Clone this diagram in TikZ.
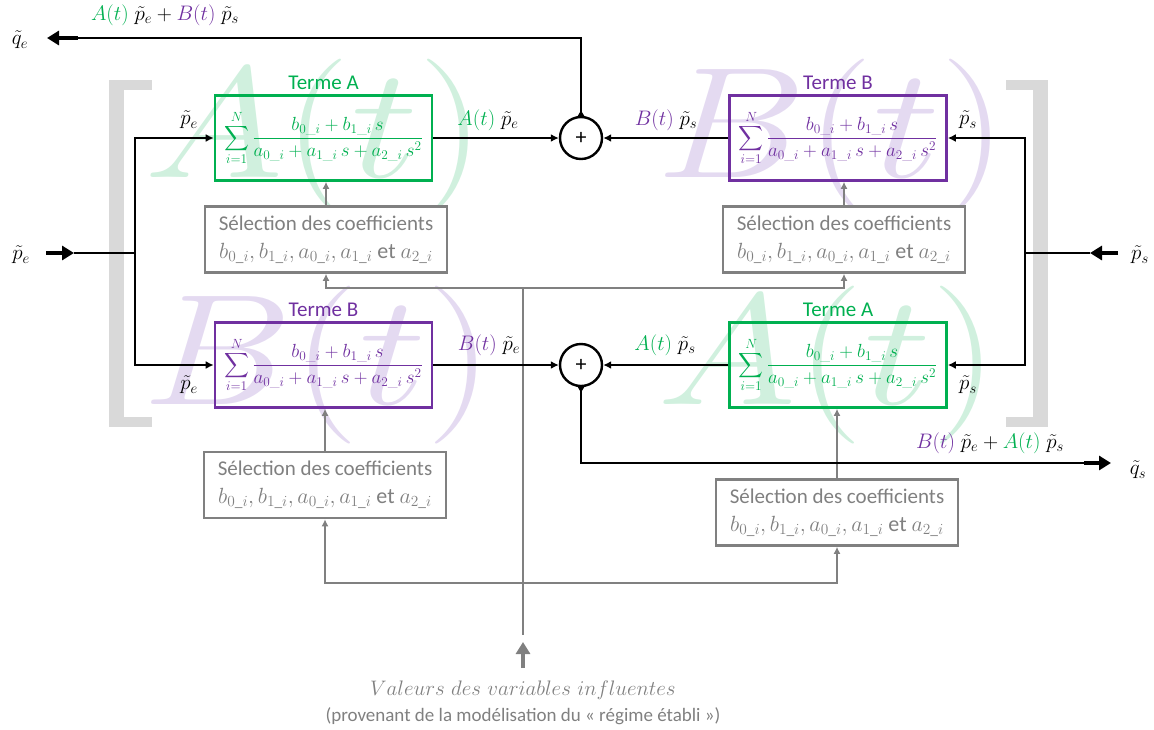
\RequirePackage{fix-cm}
\documentclass[tikz,border=0pt]{standalone}
\usepackage{amsmath}
\usepackage[no-math]{fontspec}
\newfontfamily\carl{Carlito}
\usetikzlibrary{arrows.meta}
\definecolor{grn}{HTML}{00B050}
\definecolor{prp}{HTML}{7030A0}
\definecolor{grnL}{HTML}{D0F0DE}
\definecolor{prpL}{HTML}{E4DAF1}
\definecolor{gry}{HTML}{808080}
\definecolor{brk}{HTML}{D9D9D9}
\newcommand{\AtT}{{\color{grn}A(t)}}
\newcommand{\BtT}{{\color{prp}B(t)}}
\newcommand{\frm}{\displaystyle\sum_{i=1}^{N}\frac{b_{0\_i}+b_{1\_i}\,s}{a_{0\_i}+a_{1\_i}\,s+a_{2\_i}\,s^{2}}}
\newcommand{\coefs}{{\fontsize{22}{28}\selectfont$b_{0\_i}, b_{1\_i}, a_{0\_i}, a_{1\_i}$ et $a_{2\_i}$}}
\newcommand{\wmk}[1]{\scalebox{1.2}[1]{$#1$}}
\begin{document}
\begin{tikzpicture}[x=1pt,y=-1pt,
  wm/.style={inner sep=0pt, font=\fontsize{158}{158}\selectfont},
  term/.style={draw, line width=2.6pt, minimum width=217pt, minimum height=85pt, inner sep=0pt, font=\fontsize{19}{22}\selectfont},
  termA/.style={term, draw=grn, text=grn},
  termB/.style={term, draw=prp, text=prp},
  ttl/.style={inner sep=0pt, font=\carl\fontsize{21}{24}\selectfont},
  sel/.style={draw=gry, fill=white, line width=2.6pt, minimum width=242pt, minimum height=66pt, inner sep=0pt, text=gry, align=center, font=\carl\fontsize{21}{28}\selectfont},
  plusc/.style={circle, draw, line width=2.4pt, minimum size=42pt, inner sep=0pt, font=\carl\fontsize{22}{22}\selectfont},
  lab/.style={inner sep=0pt, font=\fontsize{21}{24}\selectfont},
  wire/.style={line width=2.2pt},
  sig/.style={wire, -{Latex[length=8pt,width=8pt]}},
  circtail/.style={{Latex[reversed,length=6pt,width=7pt]}-},
  bigarrow/.style={line width=4.5pt, -{Triangle[length=12pt,width=14pt]}},
  gwire/.style={draw=gry, line width=2.2pt},
  garrow/.style={gwire, -{Latex[length=7pt,width=7pt]}},
  gbig/.style={draw=gry, line width=4.5pt, -{Triangle[length=12pt,width=14pt]}}
]
\useasboundingbox (0,0) rectangle (1154,729);
% watermarks
\node[wm,text=grnL] (wA1) at (315,138) {\wmk{A(t)}};
\node[wm,text=prpL] (wB1) at (832,138) {\wmk{B(t)}};
\node[wm,text=prpL] (wB2) at (318,365) {\wmk{B(t)}};
\node[wm,text=grnL] (wA2) at (828,365) {\wmk{A(t)}};
% brackets
\fill[brk] (109,80) rectangle (124,427);
\fill[brk] (109,80) rectangle (152,90);
\fill[brk] (109,417) rectangle (152,427);
\fill[brk] (1033,80) rectangle (1048,427);
\fill[brk] (1006,80) rectangle (1048,90);
\fill[brk] (1006,417) rectangle (1048,427);
% term boxes
\node[termA] (tA1) at (323.5,138) {$\frm$};
\node[termB] (tB1) at (838,138) {$\frm$};
\node[termB] (tB2) at (323.5,365) {$\frm$};
\node[termA] (tA2) at (838,365) {$\frm$};
\node[ttl,text=grn,above=4pt] (ttA1) at (tA1.north) {Terme A};
\node[ttl,text=prp,above=4pt] (ttB1) at (tB1.north) {Terme B};
\node[ttl,text=prp,above=4pt] (ttB2) at (tB2.north) {Terme B};
\node[ttl,text=grn,above=4pt] (ttA2) at (tA2.north) {Terme A};
% selection boxes
\node[sel] (s1b) at (326,239.5) {Sélection des coefficients\\\coefs};
\node[sel] (s2b) at (844,239.5) {Sélection des coefficients\\\coefs};
\node[sel] (s3b) at (325,485) {Sélection des coefficients\\\coefs};
\node[sel] (s4b) at (837,512.5) {Sélection des coefficients\\\coefs};
% summing junctions
\node[plusc] (S1) at (581,138) {+};
\node[plusc] (S2) at (581,365) {+};
% labels
\node[lab] (lqe) at (20,40) {$\tilde{q}_e$};
\node[lab] (ltop) at (165,15) {$\AtT\;\tilde{p}_e+\BtT\;\tilde{p}_s$};
\node[lab] (l1) at (488,120) {$\AtT\;\tilde{p}_e$};
\node[lab] (l2) at (666,120) {$\BtT\;\tilde{p}_s$};
\node[lab] (l3) at (489,345) {$\BtT\;\tilde{p}_e$};
\node[lab] (l4) at (665,345) {$\AtT\;\tilde{p}_s$};
\node[lab] (lbot) at (990,443) {$\BtT\;\tilde{p}_e+\AtT\;\tilde{p}_s$};
\node[lab] (lqs) at (1138,470) {$\tilde{q}_s$};
\node[lab] (lpe) at (21,255) {$\tilde{p}_e$};
\node[lab] (lps) at (1140,255) {$\tilde{p}_s$};
\node[lab] (lpe1) at (189,120) {$\tilde{p}_e$};
\node[lab] (lpe2) at (189,385) {$\tilde{p}_e$};
\node[lab] (lps1) at (968,120) {$\tilde{p}_s$};
\node[lab] (lps2) at (968,385) {$\tilde{p}_s$};
\node[lab,text=gry] (v1) at (523,690) {$Valeurs\ des\ variables\ influentes$};
\node[inner sep=0pt,text=gry,font=\carl\fontsize{19}{22}\selectfont] (v2) at (523,716) {(provenant de la modélisation du « régime établi »)};
% coordinates
\coordinate (jL) at (135,253);
\coordinate (jR) at (1025,253);
\coordinate (peS) at (46,253);
\coordinate (peT) at (74,253);
\coordinate (psS) at (1118,253);
\coordinate (psT) at (1090,253);
\coordinate (qeA) at (78,38);
\coordinate (qeT) at (47,38);
\coordinate (qsA) at (1084,463);
\coordinate (qsT) at (1111,463);
\coordinate (gT) at (523,288);
\coordinate (gH) at (523,583);
\coordinate (gB) at (523,635);
\coordinate (vS) at (523,668);
\coordinate (vT) at (523,642);
% gray network
\draw[gwire] (gT) -- (gB);
\draw[garrow] (gT) -| (s1b.south);
\draw[garrow] (gT) -| (s2b.south);
\draw[garrow] (gH) -| (s3b.south);
\draw[garrow] (gH) -| (s4b.south);
\draw[gbig] (vS) -- (vT);
\draw[garrow] (s1b.north) -- (s1b.north |- tA1.south);
\draw[garrow] (s2b.north) -- (s2b.north |- tB1.south);
\draw[garrow] (s3b.north) -- (s3b.north |- tB2.south);
\draw[garrow] (s4b.north) -- (s4b.north |- tA2.south);
% black signals
\draw[bigarrow] (peS) -- (peT);
\draw[wire] (peT) -- (jL);
\draw[sig] (jL) |- (tA1.west);
\draw[sig] (jL) |- (tB2.west);
\draw[bigarrow] (psS) -- (psT);
\draw[wire] (psT) -- (jR);
\draw[sig] (jR) |- (tB1.east);
\draw[sig] (jR) |- (tA2.east);
\draw[sig] (tA1.east) -- (S1.west);
\draw[sig] (tB1.west) -- (S1.east);
\draw[sig] (tB2.east) -- (S2.west);
\draw[sig] (tA2.west) -- (S2.east);
\draw[wire,circtail] (S1.north) |- (qeA);
\draw[bigarrow] (qeA) -- (qeT);
\draw[wire,circtail] (S2.south) |- (qsA);
\draw[bigarrow] (qsA) -- (qsT);
\end{tikzpicture}
\end{document}
